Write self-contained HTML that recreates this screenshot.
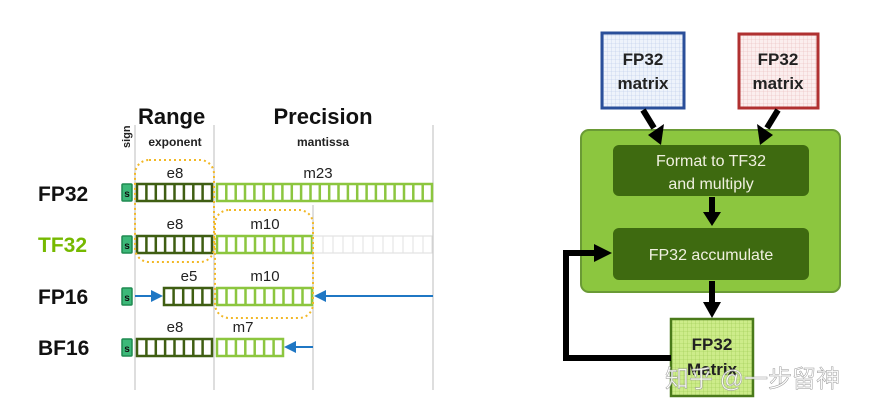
<!DOCTYPE html>
<html><head><meta charset="utf-8"><style>
body{margin:0;background:#fff;}
svg{display:block;font-family:"Liberation Sans","DejaVu Sans",sans-serif;}
</style></head><body>
<svg width="892" height="420" viewBox="0 0 892 420" xmlns="http://www.w3.org/2000/svg">
<defs>
<pattern id="gb" width="4" height="4" patternUnits="userSpaceOnUse"><rect width="4" height="4" fill="#eef3fb"/><path d="M4 0V4M0 4H4" stroke="#b8c8e8" stroke-width="0.6"/></pattern>
<pattern id="gr" width="4" height="4" patternUnits="userSpaceOnUse"><rect width="4" height="4" fill="#fbeeee"/><path d="M4 0V4M0 4H4" stroke="#e8b8b8" stroke-width="0.6"/></pattern>
<pattern id="gg" width="4" height="4" patternUnits="userSpaceOnUse"><rect width="4" height="4" fill="#cdec8a"/><path d="M4 0V4M0 4H4" stroke="#9cc850" stroke-width="0.6"/></pattern>
<marker id="ab" markerWidth="6" markerHeight="6" refX="5" refY="3" orient="auto"><path d="M0,0L6,3L0,6z" fill="#1f77c4"/></marker>
</defs>
<g stroke="#c8c8c8" stroke-width="1.2">
<line x1="135" y1="125" x2="135" y2="390"/><line x1="214" y1="125" x2="214" y2="390"/>
<line x1="313" y1="205" x2="313" y2="390"/><line x1="433" y1="125" x2="433" y2="390"/>
</g>
<text x="138" y="124" font-size="22" font-weight="bold" fill="#111">Range</text>
<text x="323" y="124" font-size="22" font-weight="bold" fill="#111" text-anchor="middle">Precision</text>
<text x="175" y="146" font-size="12" font-weight="bold" fill="#222" text-anchor="middle">exponent</text>
<text x="323" y="146" font-size="12" font-weight="bold" fill="#222" text-anchor="middle">mantissa</text>
<text transform="translate(130,148) rotate(-90)" font-size="11" font-weight="bold" fill="#222">sign</text>
<g font-size="21" font-weight="bold">
<text x="38" y="201" fill="#111">FP32</text>
<text x="38" y="252" fill="#76b900">TF32</text>
<text x="38" y="304" fill="#111">FP16</text>
<text x="38" y="355" fill="#111">BF16</text>
</g>
<g font-size="15" fill="#222" text-anchor="middle">
<text x="175" y="178">e8</text><text x="318" y="178">m23</text>
<text x="175" y="229">e8</text><text x="265" y="229">m10</text>
<text x="189" y="281">e5</text><text x="265" y="281">m10</text>
<text x="175" y="332">e8</text><text x="243" y="332">m7</text>
</g>
<g fill="#3cb878" stroke="#1e8a50" stroke-width="1.5">
<rect x="122" y="184" width="10" height="17" rx="1"/><rect x="122" y="236" width="10" height="17" rx="1"/>
<rect x="122" y="288" width="10" height="17" rx="1"/><rect x="122" y="339" width="10" height="17" rx="1"/>
</g>
<g font-size="10" font-weight="bold" fill="#111" text-anchor="middle">
<text x="127" y="197">s</text><text x="127" y="249">s</text><text x="127" y="301">s</text><text x="127" y="352">s</text>
</g>
<g stroke-width="2.5">
<rect x="137" y="184" width="75" height="17" fill="none" stroke="#3f5e12"/>
<rect x="217" y="184" width="215" height="17" fill="none" stroke="#8cc63f"/>
<rect x="137" y="236" width="75" height="17" fill="none" stroke="#3f5e12"/>
<rect x="217" y="236" width="95" height="17" fill="none" stroke="#8cc63f"/>
<rect x="313" y="236" width="119" height="17" fill="none" stroke="#ddd" stroke-width="1"/>
<rect x="164" y="288" width="48" height="17" fill="none" stroke="#3f5e12"/>
<rect x="217" y="288" width="95" height="17" fill="none" stroke="#8cc63f"/>
<rect x="137" y="339" width="75" height="17" fill="none" stroke="#3f5e12"/>
<rect x="217" y="339" width="66" height="17" fill="none" stroke="#8cc63f"/>
</g>
<g stroke-width="2.5">
<path stroke="#3f5e12" d="M146.4 184v17M155.8 184v17M165.1 184v17M174.5 184v17M183.9 184v17M193.3 184v17M202.6 184v17
M146.4 236v17M155.8 236v17M165.1 236v17M174.5 236v17M183.9 236v17M193.3 236v17M202.6 236v17
M173.6 288v17M183.2 288v17M192.8 288v17M202.4 288v17
M146.4 339v17M155.8 339v17M165.1 339v17M174.5 339v17M183.9 339v17M193.3 339v17M202.6 339v17"/>
<path stroke="#8cc63f" d="M226.3 184v17M235.7 184v17M245 184v17M254.4 184v17M263.7 184v17M273.1 184v17M282.4 184v17M291.8 184v17M301.1 184v17M310.5 184v17M319.8 184v17M329.2 184v17M338.5 184v17M347.9 184v17M357.2 184v17M366.6 184v17M375.9 184v17M385.3 184v17M394.6 184v17M404 184v17M413.3 184v17M422.7 184v17
M226.5 236v17M236 236v17M245.5 236v17M255 236v17M264.5 236v17M274 236v17M283.5 236v17M293 236v17M302.5 236v17
M226.5 288v17M236 288v17M245.5 288v17M255 288v17M264.5 288v17M274 288v17M283.5 288v17M293 288v17M302.5 288v17
M226.4 339v17M235.9 339v17M245.3 339v17M254.7 339v17M264.1 339v17M273.6 339v17"/>
<path stroke="#e2e2e2" stroke-width="1" d="M323 236v17M333 236v17M343 236v17M353 236v17M363 236v17M373 236v17M383 236v17M393 236v17M403 236v17M413 236v17M423 236v17"/>
</g>
<rect x="135" y="160" width="79" height="102" rx="14" fill="none" stroke="#f2b827" stroke-width="2" stroke-dasharray="2 3"/>
<rect x="215" y="210" width="98" height="108" rx="14" fill="none" stroke="#f2b827" stroke-width="2" stroke-dasharray="2 3"/>
<g stroke="#1f77c4" stroke-width="2" marker-end="url(#ab)">
<line x1="135" y1="296" x2="161" y2="296"/><line x1="433" y1="296" x2="316" y2="296"/><line x1="313" y1="347" x2="286" y2="347"/>
</g>
<rect x="581" y="130" width="259" height="162" rx="8" fill="#8cc63f" stroke="#6a9a35" stroke-width="2"/>
<rect x="602" y="33" width="82" height="75" fill="url(#gb)" stroke="#2a4f9a" stroke-width="3"/>
<rect x="739" y="34" width="79" height="74" fill="url(#gr)" stroke="#b03030" stroke-width="3"/>
<g font-size="17" font-weight="bold" fill="#222" text-anchor="middle">
<text x="643" y="65">FP32</text><text x="643" y="89">matrix</text>
<text x="778" y="65">FP32</text><text x="778" y="89">matrix</text>
</g>
<rect x="613" y="145" width="196" height="51" rx="6" fill="#3e6a10"/>
<rect x="613" y="228" width="196" height="52" rx="6" fill="#3e6a10"/>
<g font-size="16" fill="#f0f0e0" text-anchor="middle">
<text x="711" y="166">Format to TF32</text><text x="711" y="189">and multiply</text>
<text x="711" y="260">FP32 accumulate</text>
</g>
<rect x="671" y="319" width="82" height="77" fill="url(#gg)" stroke="#4a7a1a" stroke-width="2.5"/>
<text x="712" y="350" font-size="17" font-weight="bold" fill="#222" text-anchor="middle">FP32</text>
<text x="712" y="375" font-size="17" font-weight="bold" fill="#222" text-anchor="middle">Matrix</text>
<g stroke="#000" stroke-width="6" fill="none">
<line x1="643" y1="110" x2="654" y2="128"/><line x1="778" y1="110" x2="767" y2="128"/>
<line x1="712" y1="197" x2="712" y2="214"/><line x1="712" y1="281" x2="712" y2="304"/>
<polyline points="671,358 566,358 566,253 596,253"/>
</g>
<g fill="#000">
<polygon points="648,135 664,124 661,145"/>
<polygon points="757,124 773,135 760,145"/>
<polygon points="703,212 721,212 712,226"/>
<polygon points="703,302 721,302 712,318"/>
<polygon points="594,244 612,253 594,262"/>
</g>
<text x="665" y="387" font-size="24" fill="#fff" fill-opacity="0.85" stroke="#999" stroke-width="0.5" font-family="'Liberation Sans','Noto Sans CJK SC',sans-serif">知乎 @一步留神</text>
</svg>
</body></html>
